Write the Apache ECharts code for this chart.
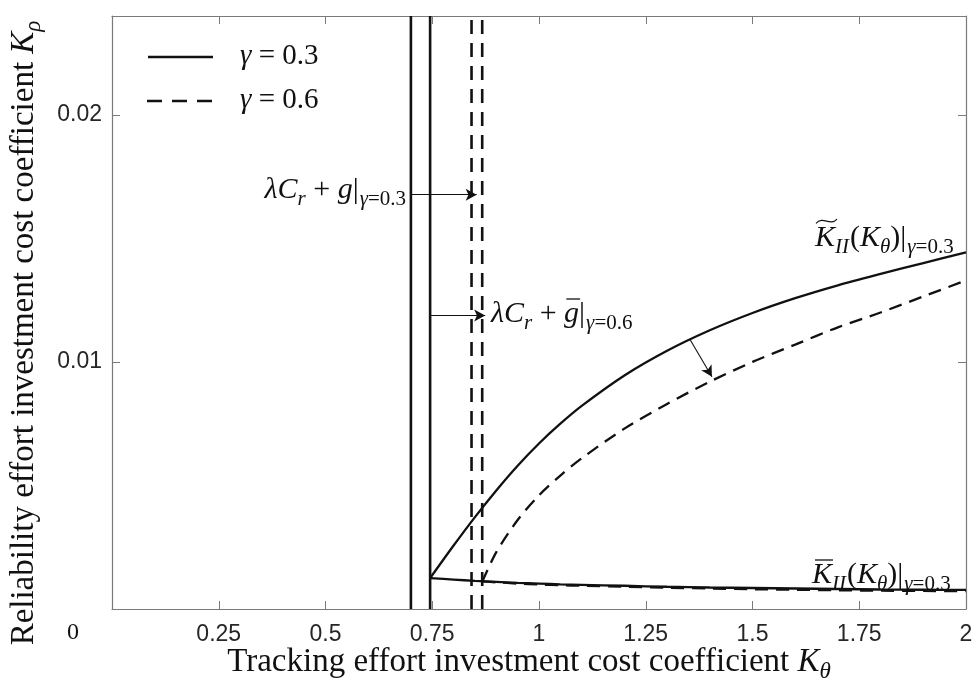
<!DOCTYPE html>
<html>
<head>
<meta charset="utf-8">
<script src="https://cdn.jsdelivr.net/npm/echarts@6/dist/echarts.min.js"></script>
<style>
html, body { margin: 0; padding: 0; background: #fff; }
#chart { width: 976px; height: 690px; }
</style>
</head>
<body>
<div id="chart"></div>
<script>
// ---- axis ticks ----
const xTickLabels = [0.25, 0.5, 0.75, 1, 1.25, 1.5, 1.75, 2];
const yTickLabels = [0.01, 0.02];

// ---- gamma = 0.3 (solid) ----
const kThetaSolid = [0.745, 0.8, 0.85, 0.9, 0.95, 1.0, 1.05, 1.1, 1.2, 1.3, 1.4, 1.5, 1.6, 1.7, 1.8, 1.9, 2.0];
const kTildeSolid = [0.00125, 0.00257, 0.00372, 0.0048, 0.0058, 0.0067, 0.0075, 0.00822, 0.00945, 0.01045, 0.01128, 0.01198, 0.01258, 0.0131, 0.01356, 0.014, 0.01443];
const kBarSolid   = [0.00125, 0.00119, 0.00114, 0.0011, 0.00106, 0.00103, 0.001, 0.00098, 0.00094, 0.0009, 0.00087, 0.00085, 0.00083, 0.00081, 0.00079, 0.00078, 0.00077];

// ---- gamma = 0.6 (dashed) ----
const kThetaDashed = [0.867, 0.9, 0.95, 1.0, 1.05, 1.1, 1.2, 1.3, 1.4, 1.5, 1.6, 1.7, 1.8, 1.9, 2.0];
const kTildeDashed = [0.0011, 0.0023, 0.0036, 0.0046, 0.0054, 0.0061, 0.0073, 0.0083, 0.0092, 0.01, 0.0107, 0.0114, 0.012, 0.01265, 0.0133];
const kBarDashed   = [0.00112, 0.00108, 0.00103, 0.00099, 0.00096, 0.00094, 0.0009, 0.00086, 0.00083, 0.0008, 0.00078, 0.00076, 0.00074, 0.00073, 0.00072];

// ---- feasibility thresholds lambda*C_r + g ----
const thresholdsSolid = [0.7, 0.745];
const thresholdsDashed = [0.842, 0.867];

// ---- annotation arrows [from, to] ----
const arrowThreshold03 = [[0.7, 0.01677], [0.854, 0.01677]];
const arrowThreshold06 = [[0.745, 0.01188], [0.874, 0.01188]];
const arrowCurveShift  = [[1.354, 0.0109], [1.405, 0.0094]];

const X_MIN = 0, X_MAX = 2, Y_MIN = 0, Y_MAX = 0.024;

const INK = '#111';
const FRAME = '#7a7a7a';
const SERIF = '"Liberation Serif", "DejaVu Serif", serif';
const SANS = '"Liberation Sans", Arial, sans-serif';
const DASH = [13, 8];

const zip = (xs, ys) => xs.map((x, i) => [x, ys[i]]);
const vline = x => [[x, Y_MIN], [x, Y_MAX]];

function curve(name, data, dashed) {
  return {
    name, type: 'line', data, symbol: 'none', smooth: 0.3,
    lineStyle: { color: INK, width: 2.3, type: dashed ? DASH : 'solid' },
    silent: true, z: 3
  };
}
function vertical(x, dashed) {
  return {
    type: 'line', data: vline(x), symbol: 'none',
    lineStyle: { color: INK, width: 2.6, type: dashed ? [14, 9] : 'solid' },
    silent: true, z: 4
  };
}
function arrow(pair) {
  return {
    type: 'line', data: [], silent: true,
    markLine: {
      silent: true, symbol: ['none', 'arrow'], symbolSize: [9, 11],
      label: { show: false },
      lineStyle: { color: INK, width: 1.1, type: 'solid' },
      data: [[{ coord: pair[0] }, { coord: pair[1] }]]
    }
  };
}

const chart = echarts.init(document.getElementById('chart'), null, { renderer: 'canvas' });

const tickLabel = (list, v) => list.some(t => Math.abs(t - v) < 1e-9) ? String(+v.toFixed(4)) : '';

chart.setOption({
  animation: false,
  backgroundColor: '#fff',
  grid: { left: 112, right: 10, top: 16, bottom: 81, containLabel: false },
  xAxis: [
    {
      type: 'value', min: X_MIN, max: X_MAX, interval: 0.25, position: 'bottom',
      axisLine: { show: true, onZero: false, lineStyle: { color: FRAME, width: 1.2 } },
      axisTick: { show: true, inside: true, length: 8, lineStyle: { color: FRAME } },
      axisLabel: { margin: 14, fontFamily: SANS, fontSize: 23, color: '#262626', formatter: v => tickLabel(xTickLabels, v) },
      splitLine: { show: false }
    },
    {
      type: 'value', min: X_MIN, max: X_MAX, interval: 0.25, position: 'top',
      axisLine: { show: true, onZero: false, lineStyle: { color: FRAME, width: 1.2 } },
      axisTick: { show: true, inside: true, length: 8, lineStyle: { color: FRAME } },
      axisLabel: { show: false }, splitLine: { show: false }
    }
  ],
  yAxis: [
    {
      type: 'value', min: Y_MIN, max: Y_MAX, interval: 0.01, position: 'left',
      axisLine: { show: true, onZero: false, lineStyle: { color: FRAME, width: 1.2 } },
      axisTick: { show: true, inside: true, length: 8, lineStyle: { color: FRAME } },
      axisLabel: { margin: 10, fontFamily: SANS, fontSize: 23, color: '#262626', formatter: v => tickLabel(yTickLabels, v) },
      splitLine: { show: false }
    },
    {
      type: 'value', min: Y_MIN, max: Y_MAX, interval: 0.01, position: 'right',
      axisLine: { show: true, onZero: false, lineStyle: { color: FRAME, width: 1.2 } },
      axisTick: { show: true, inside: true, length: 8, lineStyle: { color: FRAME } },
      axisLabel: { show: false }, splitLine: { show: false }
    }
  ],
  series: [
    ...thresholdsSolid.map(x => vertical(x, false)),
    ...thresholdsDashed.map(x => vertical(x, true)),
    curve('K tilde, gamma 0.3', zip(kThetaSolid, kTildeSolid), false),
    curve('K bar, gamma 0.3', zip(kThetaSolid, kBarSolid), false),
    curve('K tilde, gamma 0.6', zip(kThetaDashed, kTildeDashed), true),
    curve('K bar, gamma 0.6', zip(kThetaDashed, kBarDashed), true),
    arrow(arrowThreshold03),
    arrow(arrowThreshold06),
    arrow(arrowCurveShift)
  ]
});

// ---- math-style text built from italic / roman / subscript pieces ----
const ctx = document.createElement('canvas').getContext('2d');
function pieceFont(tok, size) {
  const sz = tok.sub ? Math.round(size * 0.7) : size;
  return (tok.i ? 'italic ' : '') + sz + 'px ' + SERIF;
}
function mathText(tokens, size, ox, oy) {
  const els = [];
  let x = ox;
  tokens.forEach(tok => {
    const font = pieceFont(tok, size);
    ctx.font = font;
    const w = ctx.measureText(tok.t).width;
    const y = oy + (tok.sub ? size * 0.3 : 0);
    els.push({
      type: 'text', silent: true, z: 10,
      style: { text: tok.t, x, y, font, fill: INK, textAlign: 'left', textVerticalAlign: 'middle', align: 'left', verticalAlign: 'middle' }
    });
    if (tok.acc === 'bar') {
      els.push({ type: 'line', silent: true, z: 10,
        shape: { x1: x + w * 0.15, y1: oy - size * 0.5, x2: x + w + 1, y2: oy - size * 0.5 },
        style: { stroke: INK, lineWidth: 1.3 } });
    }
    if (tok.acc === 'tilde') {
      const x0 = x + w * 0.05, x1 = x + w + 2, yy = oy - size * 0.56, h = size * 0.12;
      els.push({ type: 'bezierCurve', silent: true, z: 10,
        shape: { x1: x0, y1: yy + h * 0.6, cpx1: x0 + (x1 - x0) * 0.35, cpy1: yy - h * 1.6,
                 cpx2: x0 + (x1 - x0) * 0.65, cpy2: yy + h * 1.6, x2: x1, y2: yy - h * 0.6 },
        style: { stroke: INK, lineWidth: 1.2, fill: null } });
    }
    x += w + (tok.gap || 0);
  });
  return { els, width: x - ox };
}
function measureMath(tokens, size) {
  return mathText(tokens, size, 0, 0).width;
}

const LBL = 30;
const thresholdLabel = bar => [
  { t: 'λ', i: true }, { t: 'C', i: true }, { t: 'r', i: true, sub: true },
  { t: ' + ', i: false }, { t: 'g', i: true, acc: bar ? 'bar' : null }, { t: '|', i: false, gap: 1 },
  { t: 'γ', i: true, sub: true }, { t: '=0.' + (bar ? '6' : '3'), i: false, sub: true }
];
const curveLabel = acc => [
  { t: 'K', i: true, acc }, { t: 'II', i: true, sub: true, gap: 1 }, { t: '(', i: false },
  { t: 'K', i: true }, { t: 'θ', i: true, sub: true }, { t: ')', i: false }, { t: '|', i: false, gap: 1 },
  { t: 'γ', i: true, sub: true }, { t: '=0.3', i: false, sub: true }
];
const legendLabel = g => [{ t: 'γ', i: true }, { t: ' = 0.' + g, i: false }];

const graphics = [];
const add = r => graphics.push(...r.els);

// threshold labels
const t03 = thresholdLabel(false);
add(mathText(t03, LBL, 406 - measureMath(t03, LBL), 190));
add(mathText(thresholdLabel(true), LBL, 491, 314));
// curve labels
add(mathText(curveLabel('tilde'), LBL, 815, 238));
add(mathText(curveLabel('bar'), LBL, 812, 575));

// legend
graphics.push({ type: 'line', silent: true, shape: { x1: 148, y1: 57, x2: 213, y2: 57 }, style: { stroke: INK, lineWidth: 2.3 } });
graphics.push({ type: 'line', silent: true, shape: { x1: 147, y1: 101, x2: 213, y2: 101 }, style: { stroke: INK, lineWidth: 2.3, lineDash: [15, 10] } });
add(mathText(legendLabel('3'), 29, 240, 56));
add(mathText(legendLabel('6'), 29, 240, 100));

// origin label
graphics.push({ type: 'text', silent: true, style: { text: '0', x: 73, y: 633, font: '24px ' + SERIF, fill: INK, textAlign: 'center', textVerticalAlign: 'middle', align: 'center', verticalAlign: 'middle' } });

// axis titles
const TITLE = 33;
const xTitle = [{ t: 'Tracking effort investment cost coefficient ', i: false }, { t: 'K', i: true }, { t: 'θ', i: true, sub: true }];
const xw = measureMath(xTitle, TITLE);
add(mathText(xTitle, TITLE, 529 - xw / 2, 662));

const yTitle = [{ t: 'Reliability effort investment cost coefficient ', i: false }, { t: 'K', i: true }, { t: 'ρ', i: true, sub: true }];
const yw = measureMath(yTitle, TITLE);
const yEls = mathText(yTitle, TITLE, 0, 0).els;
graphics.push({ type: 'group', rotation: Math.PI / 2, x: 24, y: 333 + yw / 2, children: yEls });

chart.setOption({ graphic: { elements: graphics } });
</script>
</body>
</html>
